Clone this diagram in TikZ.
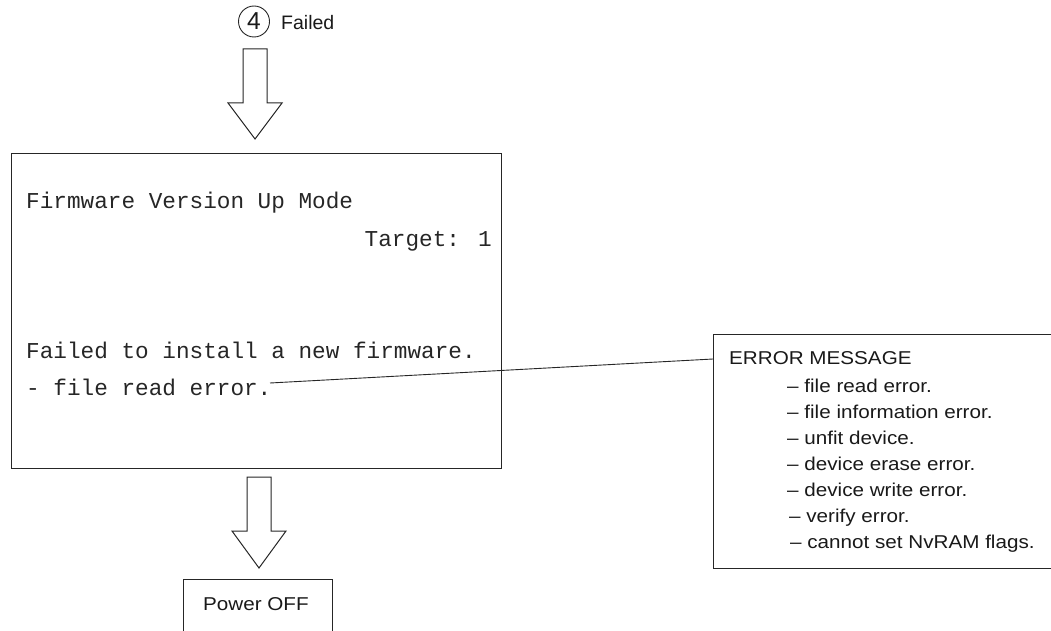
\documentclass[tikz,border=0pt]{standalone}
\usepackage{fontspec}
\newfontfamily\screenmono{Liberation Mono}
\newfontfamily\widesans[FakeStretch=1.11]{Liberation Sans}
\newfontfamily\plainsans{Liberation Sans}
\begin{document}
\begin{tikzpicture}[x=1pt,y=-1pt,
  frame/.style={draw=black!85, line width=1pt, inner sep=0pt},
  monotext/.style={font=\screenmono\fontsize{22.7}{26}\selectfont, anchor=base west, inner sep=0pt, text=black!85},
  sanstext/.style={font=\widesans\fontsize{18.6}{21}\selectfont, anchor=base west, inner sep=0pt, text=black!90},
  blockarrow/.style={draw=black!85, line width=1pt, fill=white, line join=miter},
  leader/.style={draw=black!85, line width=0.9pt}]
\useasboundingbox (0,0) rectangle (1051,631);
\clip (0,0) rectangle (1051,631);

% top label
\node[draw=black!85, circle, minimum size=31pt, inner sep=0pt, line width=0.9pt,
      font=\plainsans\fontsize{24.5}{25}\selectfont, text=black!90] (num) at (254,21.5) {4};
\node[anchor=base west, inner sep=0pt, font=\plainsans\fontsize{19.5}{20}\selectfont, text=black!90] (failed) at (281,30) {Failed};

% top block arrow
\draw[blockarrow] (243,49) -- (267,49) -- (267,103) -- (282,103) -- (255,139) -- (228,103) -- (243,103) -- cycle;

% screen box
\node[frame, anchor=north west, minimum width=490pt, minimum height=315pt] (screen) at (11,153) {};
\node[monotext] (l1) at (26,208) {Firmware Version Up Mode};
\node[monotext, anchor=base east] (l2) at (492,246) {Target: 1};
\node[monotext] (l3) at (26,358) {Failed to install a new firmware.};
\node[monotext] (l4) at (26,395) {- file read error.};

% bottom block arrow
\draw[blockarrow] (247,477) -- (271,477) -- (271,531) -- (286,531) -- (259,568) -- (232,531) -- (247,531) -- cycle;

% power off box
\node[frame, anchor=north west, minimum width=149pt, minimum height=80pt] (power) at (183,579) {};
\node[sanstext] (ptext) at (203,610.5) {Power OFF};

% error message box
\node[frame, anchor=north west, minimum width=360pt, minimum height=234pt] (errbox) at (713,334) {};
\node[sanstext] (e0) at (729,364.5) {ERROR MESSAGE};
\node[sanstext] (e1) at (787,392) {– file read error.};
\node[sanstext] (e2) at (787,418) {– file information error.};
\node[sanstext] (e3) at (787,444.5) {– unfit device.};
\node[sanstext] (e4) at (787,470.5) {– device erase error.};
\node[sanstext] (e5) at (787,496.5) {– device write error.};
\node[sanstext] (e6) at (789,522) {– verify error.};
\node[sanstext] (e7) at (790,548) {– cannot set NvRAM flags.};

% leader line
\coordinate (tail) at (270,383);
\coordinate (errIn) at (713,359);
\draw[leader] (tail) -- (errIn);
\end{tikzpicture}
\end{document}
